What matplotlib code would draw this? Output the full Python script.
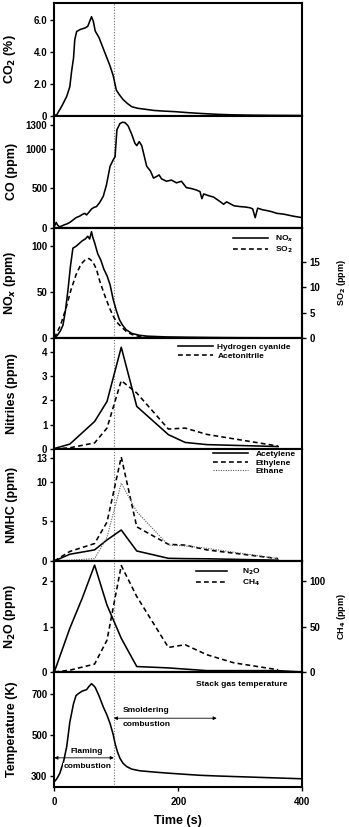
import numpy as np
import matplotlib
matplotlib.use("Agg")
import matplotlib.pyplot as plt

plt.rcParams["font.family"] = ["Liberation Sans", "DejaVu Sans"]
plt.rcParams["font.weight"] = "bold"
plt.rcParams["axes.labelweight"] = "bold"

# --- datos ---
t_co2 = [0, 4, 12, 20, 25, 28, 31, 33, 36, 42, 50, 54, 57, 60, 63, 66, 72, 79, 85, 90,
         95, 100, 105, 111, 118, 125, 135, 145, 160, 175, 195, 215, 240, 265, 290, 320, 350, 400]
co2 = [0, 0.05, 0.58, 1.2, 1.8, 2.8, 3.6, 4.75, 5.27, 5.4, 5.5, 5.6, 5.9, 6.2, 5.9, 5.3, 4.9,
       4.2, 3.6, 3.1, 2.5, 1.6, 1.3, 1.0, 0.75, 0.55, 0.45, 0.4, 0.32, 0.28, 0.24, 0.18, 0.12,
       0.07, 0.04, 0.02, 0.01, 0.0]

t_co = [0, 3, 5, 8, 12, 16, 20, 25, 30, 35, 41, 45, 49, 52, 56, 60, 64, 68, 73, 79, 84, 90,
        95, 98, 101, 106, 110, 114, 119, 125, 130, 133, 137, 141, 149, 155, 160, 165, 169, 173,
        181, 189, 197, 205, 213, 220, 229, 235, 238, 241, 248, 257, 268, 273, 278, 290, 300,
        308, 316, 320, 324, 328, 336, 343, 351, 359, 370, 385, 400]
co = [20, 70, 40, 15, 25, 40, 50, 70, 100, 130, 150, 170, 185, 165, 200, 240, 260, 270, 320,
      400, 540, 780, 860, 900, 1240, 1320, 1335, 1330, 1290, 1180, 1070, 1040, 1090, 1040, 780,
      720, 630, 650, 670, 620, 590, 605, 570, 590, 510, 500, 480, 460, 370, 430, 410, 390, 330,
      300, 330, 280, 270, 265, 255, 240, 130, 250, 230, 220, 205, 185, 175, 150, 130]

t_nox = [0, 5, 10, 14, 18, 22, 26, 30, 35, 40, 45, 50, 54, 57, 60, 62, 65, 70, 75, 80, 85, 90,
         95, 100, 105, 110, 116, 125, 137, 150, 180, 220, 260, 300, 350, 400]
nox = [0, 3, 8, 14, 30, 52, 78, 98, 100, 103, 106, 108, 111, 108, 116, 110, 104, 92, 85, 75,
       68, 58, 42, 30, 20, 14, 9, 5, 3, 2, 1.2, 0.8, 0.5, 0.3, 0.2, 0.1]
t_so2 = [0, 10, 19, 27, 35, 43, 51, 56, 62, 68, 73, 80, 89, 95, 100, 108, 116, 125, 137, 153, 180]
so2 = [0, 2.5, 5.9, 9.5, 12.4, 14.5, 15.5, 15.6, 15.0, 13.5, 11.3, 8.8, 5.9, 4.3, 3.2, 2.2, 1.3,
       0.7, 0.3, 0.05, 0]

t_muestra = [0, 25, 65, 85, 108, 133, 184, 211, 246, 361]
hcn = [0.02, 0.2, 1.13, 1.95, 4.18, 1.75, 0.59, 0.27, 0.18, 0.1]
acetonitrilo = [0, 0.05, 0.25, 0.86, 2.81, 2.3, 0.82, 0.86, 0.6, 0.12]

acetileno = [0, 0.85, 1.4, 2.65, 3.9, 1.26, 0.34, 0.3, 0.28, 0.1]
etileno = [0, 1.2, 2.2, 4.9, 13.1, 4.3, 2.1, 2.0, 1.4, 0.3]
etano = [0, 0.1, 0.3, 3.0, 9.8, 6.2, 2.0, 1.9, 1.6, 0.3]

t_n2o = [0, 25, 45, 65, 85, 108, 133, 184, 246, 361, 400]
n2o = [0, 0.96, 1.62, 2.35, 1.47, 0.74, 0.12, 0.09, 0.03, 0.03, 0.0]
t_ch4 = [0, 25, 65, 85, 108, 133, 184, 211, 246, 290, 361]
ch4 = [0, 2, 8.7, 35, 117, 83, 27, 30, 19, 10, 2.5]

t_temp = [0, 4, 9, 15, 20, 25, 31, 35, 39, 45, 52, 56, 60, 63, 66, 72, 79, 85, 90, 95, 98,
          102, 106, 111, 117, 125, 138, 160, 181, 210, 235, 260, 289, 320, 350, 400]
temp = [270, 285, 312, 370, 441, 560, 651, 690, 700, 712, 719, 735, 748, 740, 730, 690, 635,
        595, 554, 500, 457, 415, 384, 360, 344, 332, 324, 318, 313, 307, 302, 299, 296, 293,
        290, 285]

t_transicion = 96

# --- figura ---
fig = plt.figure(figsize=(3.49, 8.27), dpi=100)
W, H = 349, 827
izq, der = 54.3, 302.3
bordes = [3, 115.5, 228, 338, 449, 561, 672, 787]

ejes = []
for i in range(7):
    arriba, abajo = bordes[i], bordes[i + 1]
    ax = fig.add_axes([izq / W, 1 - abajo / H, (der - izq) / W, (abajo - arriba) / H])
    for s in ax.spines.values():
        s.set_linewidth(1.5)
    ax.set_xlim(0, 400)
    ax.set_xticks([0, 200, 400])
    ax.tick_params(axis="x", length=0, labelbottom=False)
    ax.tick_params(axis="y", direction="out", length=3, width=1, labelsize=7, pad=2)
    ax.axvline(t_transicion, color="0.45", lw=0.8, ls=(0, (1, 1.5)), zorder=0)
    ax.yaxis.set_label_coords(-0.145, 0.5)
    ejes.append(ax)

lw = 1.15
dash = (0, (3, 2))
fs_lab = 9


def eje_derecho(ax, ylim, ticks, etiqueta):
    ax2 = ax.twinx()
    ax2.set_ylim(*ylim)
    ax2.set_yticks(ticks)
    ax2.tick_params(axis="y", direction="out", length=3, width=1, labelsize=7, pad=2)
    ax2.set_ylabel(etiqueta, fontsize=6.5)
    ax2.yaxis.set_label_coords(1.13, 0.5)
    for s in ax2.spines.values():
        s.set_linewidth(1.5)
    return ax2


def leyenda(ax, handles, labels, x, y, sep=0.8, largo=4.2):
    ax.legend(handles, labels, loc="upper left", bbox_to_anchor=(x, y), frameon=False,
              handlelength=largo, handletextpad=sep, labelspacing=0.1,
              borderpad=0, borderaxespad=0,
              prop={"weight": "bold", "size": 6})


# CO2
ax = ejes[0]
ax.plot(t_co2, co2, color="k", lw=lw)
ax.set_ylim(0, 7.06)
ax.set_yticks([0, 2, 4, 6])
ax.set_yticklabels(["0", "2.0", "4.0", "6.0"])
ax.set_ylabel("CO$_\\mathbf{2}$ (%)", fontsize=fs_lab)

# CO
ax = ejes[1]
ax.plot(t_co, co, color="k", lw=lw)
ax.set_ylim(0, 1420)
ax.set_yticks([0, 500, 1000, 1300])
ax.set_ylabel("CO (ppm)", fontsize=fs_lab)

# NOx / SO2
ax = ejes[2]
l1, = ax.plot(t_nox, nox, color="k", lw=lw)
ax.set_ylim(0, 120)
ax.set_yticks([0, 50, 100])
ax.set_ylabel("NO$_\\mathbf{\\it{x}}$ (ppm)", fontsize=fs_lab)
ax2 = eje_derecho(ax, (0, 21.6), [0, 5, 10, 15], "SO$_\\mathbf{2}$ (ppm)")
l2, = ax2.plot(t_so2, so2, color="k", lw=lw, ls=dash)
leyenda(ax, [l1, l2], ["NO$_\\mathbf{\\it{x}}$", "SO$_\\mathbf{2}$"], 0.72, 0.95)

# Nitrilos
ax = ejes[3]
l1, = ax.plot(t_muestra, hcn, color="k", lw=lw)
l2, = ax.plot(t_muestra, acetonitrilo, color="k", lw=lw, ls=dash)
ax.set_ylim(0, 4.56)
ax.set_yticks([0, 1, 2, 3, 4])
ax.set_ylabel("Nitriles (ppm)", fontsize=fs_lab)
leyenda(ax, [l1, l2], ["Hydrogen cyanide", "Acetonitrile"], 0.5, 0.95, sep=0.5)

# NMHC
ax = ejes[4]
l1, = ax.plot(t_muestra, acetileno, color="k", lw=lw)
l2, = ax.plot(t_muestra, etileno, color="k", lw=lw, ls=dash)
l3, = ax.plot(t_muestra, etano, color="0.35", lw=0.8, ls=(0, (1, 1.2)))
ax.set_ylim(0, 14.1)
ax.set_yticks([0, 5, 10, 13])
ax.set_ylabel("NMHC (ppm)", fontsize=fs_lab)
leyenda(ax, [l1, l2, l3], ["Acetylene", "Ethylene", "Ethane"], 0.64, 0.99, sep=0.9)

# N2O / CH4
ax = ejes[5]
l1, = ax.plot(t_n2o, n2o, color="k", lw=lw)
ax.set_ylim(0, 2.44)
ax.set_yticks([0, 1, 2])
ax.set_ylabel("N$_\\mathbf{2}$O (ppm)", fontsize=fs_lab)
ax2 = eje_derecho(ax, (0, 122), [0, 50, 100], "CH$_\\mathbf{4}$ (ppm)")
l2, = ax2.plot(t_ch4, ch4, color="k", lw=lw, ls=dash)
leyenda(ax, [l1, l2], ["N$_\\mathbf{2}$O", "CH$_\\mathbf{4}$"], 0.57, 0.95, sep=1.8, largo=3.8)

# Temperatura
ax = ejes[6]
ax.plot(t_temp, temp, color="k", lw=lw)
ax.set_ylim(245, 805)
ax.set_yticks([300, 500, 700])
ax.set_ylabel("Temperature (K)", fontsize=fs_lab)
ax.tick_params(axis="x", length=3, width=1, labelbottom=True, labelsize=7, pad=4)
ax.set_xlabel("Time (s)", fontsize=fs_lab, labelpad=6)
ax.text(302, 745, "Stack gas temperature", fontsize=6, ha="center", va="center")
ax.annotate("", xy=(t_transicion, 580), xytext=(262, 580),
            arrowprops=dict(arrowstyle="<|-|>", color="k", lw=0.6, mutation_scale=5,
                            shrinkA=0, shrinkB=0))
ax.text(111, 619, "Smoldering", fontsize=6, ha="left", va="center")
ax.text(111, 547, "combustion", fontsize=6, ha="left", va="center")
ax.annotate("", xy=(0, 387), xytext=(t_transicion, 387),
            arrowprops=dict(arrowstyle="<|-|>", color="k", lw=0.6, mutation_scale=5,
                            shrinkA=0, shrinkB=0))
ax.text(52, 416, "Flaming", fontsize=6, ha="center", va="center")
ax.text(54, 343, "combustion", fontsize=6, ha="center", va="center",
        bbox=dict(facecolor="white", edgecolor="none", pad=0.3))

fig.savefig("out.png", dpi=100)
